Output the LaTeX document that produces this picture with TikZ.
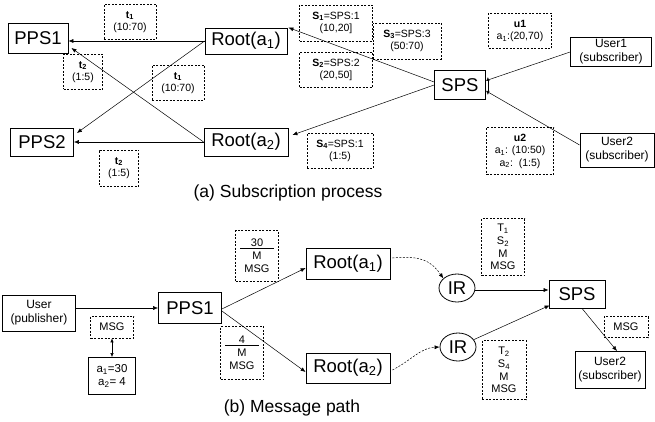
\documentclass[tikz,border=0pt]{standalone}
\usepackage{fontspec}
\setmainfont{Liberation Sans}
\usetikzlibrary{arrows.meta,calc,shapes.geometric}
\begin{document}
\begin{tikzpicture}[x=1pt,y=-1pt,
  bigbox/.style={draw,line width=0.8pt,inner sep=0pt,font=\fontsize{18.5}{20}\selectfont},
  ubox/.style={draw,line width=0.8pt,inner sep=0pt,align=center,font=\fontsize{12}{14}\selectfont},
  dbox/.style={draw,dashed,dash pattern=on 2pt off 1.5pt,line width=0.7pt,inner sep=0pt,align=center,font=\fontsize{10.5}{12.5}\selectfont},
  irnode/.style={draw,ellipse,line width=0.8pt,inner sep=0pt,minimum width=36pt,minimum height=28pt,font=\fontsize{18.5}{20}\selectfont},
  arr/.style={-{Latex[length=5pt,width=4pt]},line width=0.5pt},
  darr/.style={{Latex[length=4pt,width=3.5pt]}-{Latex[length=4pt,width=3.5pt]},line width=0.6pt},
  dasharr/.style={-{Latex[length=5pt,width=4pt]},line width=0.5pt,dash pattern=on 2pt off 1.5pt},
  captext/.style={font=\fontsize{17.5}{19}\selectfont}
]
\useasboundingbox (0,0) rectangle (655,422);
% ---------- (a) ----------
\node[bigbox,minimum width=60pt,minimum height=30pt] (pps1) at (38,38) {PPS1};
\node[bigbox,minimum width=63pt,minimum height=28pt] (pps2) at (42,142) {PPS2};
\node[bigbox,minimum width=82pt,minimum height=26pt] (r1) at (246,41) {Root(a\textsubscript{1})};
\node[bigbox,minimum width=84pt,minimum height=28pt] (r2) at (246,142) {Root(a\textsubscript{2})};
\node[bigbox,minimum width=51pt,minimum height=29pt] (sps) at (460,85) {SPS};
\node[ubox,minimum width=81pt,minimum height=29pt] (user1) at (611,52) {User1\\(subscriber)};
\node[ubox,minimum width=74pt,minimum height=34pt] (user2) at (617,150) {User2\\(subscriber)};

\node[dbox,minimum width=52pt,minimum height=35pt] (t1a) at (130,22) {\textbf{t\textsubscript{1}}\\(10:70)};
\node[dbox,minimum width=39pt,minimum height=35pt] (t2a) at (83,72) {\textbf{t\textsubscript{2}}\\(1:5)};
\node[dbox,minimum width=52pt,minimum height=35pt] (t1b) at (178,83) {\textbf{t\textsubscript{1}}\\(10:70)};
\node[dbox,minimum width=39pt,minimum height=36pt] (t2b) at (119,168) {\textbf{t\textsubscript{2}}\\(1:5)};
\node[dbox,minimum width=73pt,minimum height=36pt] (s1) at (336,23) {\textbf{S\textsubscript{1}}=SPS:1\\(10,20]};
\node[dbox,minimum width=68pt,minimum height=36pt] (s3) at (407,41) {\textbf{S\textsubscript{3}}=SPS:3\\(50:70)};
\node[dbox,minimum width=73pt,minimum height=35pt] (s2) at (336,70) {\textbf{S\textsubscript{2}}=SPS:2\\(20,50]};
\node[dbox,minimum width=66pt,minimum height=35pt] (s4) at (340,151) {\textbf{S\textsubscript{4}}=SPS:1\\(1:5)};
\node[dbox,minimum width=63pt,minimum height=35pt] (u1) at (520,31) {\textbf{u1}\\a\textsubscript{1}:(20,70)};
\node[dbox,minimum width=67pt,minimum height=47pt] (u2) at (520,151) {\textbf{u2}\\a\textsubscript{1}: (10:50)\\a\textsubscript{2}:\ \ (1:5)};

\draw[arr] (r1.west) -- (r1.west -| pps1.east);
\draw[arr] (r1.west) -- ([xshift=3pt,yshift=9pt]pps2.east);
\draw[arr] (r2.west) -- ([xshift=3pt,yshift=-10pt]pps1.east);
\draw[arr] (r2.west) -- (r2.west -| pps2.east);
\draw[arr] ([yshift=3pt]sps.west) -- ([xshift=1pt]r1.north east);
\draw[arr] (sps.west) -- ([xshift=4pt,yshift=7pt]r2.east);
\coordinate (sa) at ([xshift=2pt,yshift=5pt]sps.east);
\coordinate (sb) at ([xshift=2pt,yshift=-7pt]sps.east);
\draw[line width=0.5pt] ([yshift=0pt]user1.west) -- (sa);
\draw[line width=0.5pt] ([yshift=5pt]user2.west) -- (sb);
\draw[darr] ([yshift=3pt]sa) -- ([yshift=-3pt]sb);

\node[captext] (capa) at (288,193) {(a) Subscription process};

% ---------- (b) ----------
\node[ubox,minimum width=73pt,minimum height=36pt] (pub) at (39,313) {User\\(publisher)};
\node[dbox,minimum width=43pt,minimum height=22pt,font=\fontsize{11}{13}\selectfont] (msg) at (112,327) {MSG};
\node[draw,line width=0.8pt,inner sep=0pt,align=center,minimum width=47pt,minimum height=37pt,font=\fontsize{11.5}{13.5}\selectfont] (aval) at (112,376) {a\textsubscript{1}=30\\a\textsubscript{2}= 4};
\node[bigbox,minimum width=63pt,minimum height=31pt] (ppsb) at (190,308) {PPS1};
\node[bigbox,minimum width=84pt,minimum height=31pt] (r1b) at (348,264) {Root(a\textsubscript{1})};
\node[bigbox,minimum width=84pt,minimum height=30pt] (r2b) at (348,368) {Root(a\textsubscript{2})};
\node[irnode] (ir1) at (457,288) {IR};
\node[irnode] (ir2) at (458,347) {IR};
\node[bigbox,minimum width=56pt,minimum height=28pt] (spsb) at (577,294) {SPS};
\node[ubox,minimum width=70pt,minimum height=37pt] (user2b) at (610,370) {User2\\(subscriber)};

\node[dbox,minimum width=43pt,minimum height=51pt,font=\fontsize{11}{13}\selectfont] (m30) at (257,256) {\underline{\makebox[34pt]{30}}\\M\\MSG};
\node[dbox,minimum width=43pt,minimum height=53pt,font=\fontsize{11}{13}\selectfont] (m4) at (242,353) {\underline{\makebox[34pt]{4}}\\M\\MSG};
\node[dbox,minimum width=43pt,minimum height=57pt,font=\fontsize{11}{12.6}\selectfont] (tsa) at (503,247) {T\textsubscript{1}\\S\textsubscript{2}\\M\\MSG};
\node[dbox,minimum width=44pt,minimum height=59pt,font=\fontsize{11}{12.6}\selectfont] (tsb) at (504,370) {T\textsubscript{2}\\S\textsubscript{4}\\M\\MSG};
\node[dbox,minimum width=44pt,minimum height=21pt,font=\fontsize{11}{13}\selectfont] (msg2) at (626,327) {MSG};

\draw[arr] (pub.east |- ppsb.west) -- (ppsb.west);
\draw[darr] (msg.south) -- (aval.north);
\draw[arr] ([yshift=-1pt]ppsb.east) -- ([yshift=-4pt]r1b.west);
\draw[arr] ([yshift=-3pt]ppsb.east) -- ([yshift=-4pt]r2b.west);
\draw[dasharr] ([xshift=2pt,yshift=6pt]r1b.east) .. controls (422,255) and (432,262) .. (ir1.145);
\draw[dasharr] ([xshift=2pt,yshift=-2pt]r2b.east) .. controls (412,360) and (420,348) .. (ir2.west);
\draw[arr] ([yshift=-2pt]ir1.east) -- ([yshift=-2pt]ir1.east -| spsb.west);
\draw[arr] (ir2.25) -- ([xshift=1pt,yshift=3pt]spsb.south west);
\draw[arr] ([xshift=5pt]spsb.south) -- ([xshift=7pt]user2b.north);

\node[captext] (capb) at (292,408) {(b) Message path};
\end{tikzpicture}
\end{document}
